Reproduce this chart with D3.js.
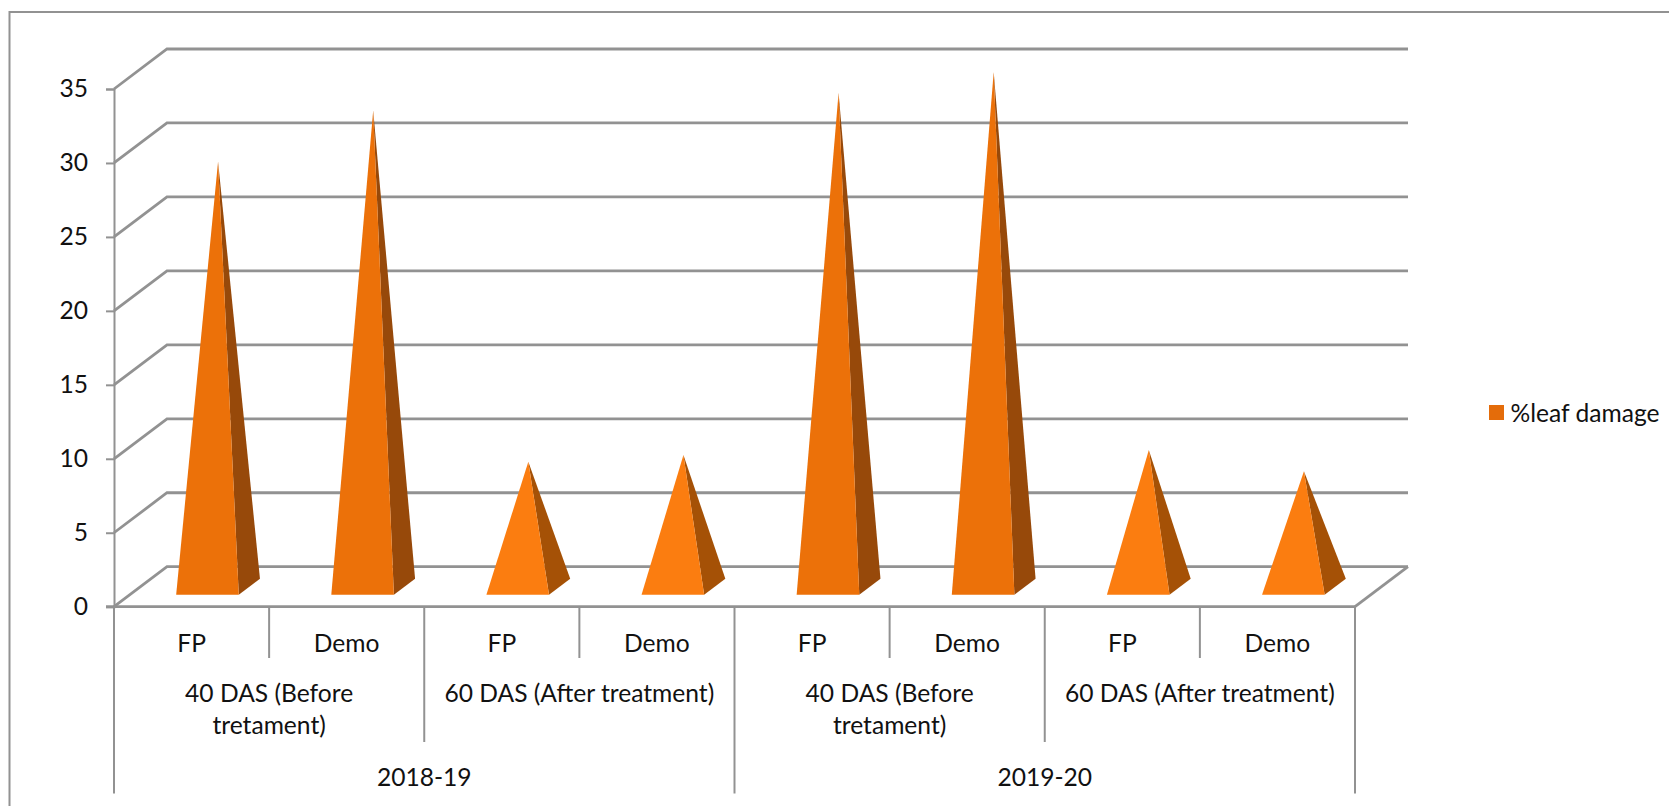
<!DOCTYPE html>
<html>
<head>
<meta charset="utf-8">
<script src="https://cdn.jsdelivr.net/npm/d3@7"></script>
<style>
  html, body { margin: 0; padding: 0; background: #fff; overflow: hidden; }
  text { font-family: Lato, "Open Sans", sans-serif; fill: #111; }
</style>
</head>
<body>
<div id="chart"></div>
<script>
// values
const categories = ['FP', 'Demo', 'FP', 'Demo', 'FP', 'Demo', 'FP', 'Demo'];
const leafDamage = [28.75, 32.2, 8.45, 8.9, 33.4, 34.8, 9.25, 7.8];
const treatmentLabels = [
  ['40 DAS (Before', 'tretament)'],
  ['60 DAS (After treatment)'],
  ['40 DAS (Before', 'tretament)'],
  ['60 DAS (After treatment)']
];
const yearLabels = ['2018-19', '2019-20'];
const yTicks = [0, 5, 10, 15, 20, 25, 30, 35];
const seriesName = '%leaf damage';

const W = 1669, H = 806;
const GREY = '#929292';
const FS = 24.6;

// 3d box offset of the back wall
const depthX = 53, depthY = 40;

const svg = d3.select('#chart').append('svg')
  .attr('width', W).attr('height', H)
  .attr('viewBox', `0 0 ${W} ${H}`)
  .style('display', 'block');

const x = d3.scaleBand().domain(d3.range(categories.length)).range([114, 1355]);
const y = d3.scaleLinear().domain([0, 35]).range([606.7, 89]);

const faceColor = d3.scaleThreshold().domain([15]).range(['#FB7D10', '#EC7109']);
const sideColor = d3.scaleThreshold().domain([15]).range(['#A55106', '#97490A']);

// chart frame (open on the right and bottom, cropped in the source)
svg.append('path')
  .attr('d', `M9.5,${H} V12 H${W}`)
  .attr('fill', 'none').attr('stroke', GREY).attr('stroke-width', 2);

// back wall gridlines + slanted side wall
const gGrid = svg.append('g').attr('fill', 'none').attr('stroke', GREY).attr('stroke-width', 2.8);
yTicks.forEach(t => {
  const line = d3.line();
  gGrid.append('path').attr('d', line([
    [x.range()[0], y(t)],
    [x.range()[0] + depthX, y(t) - depthY],
    [x.range()[1] + depthX, y(t) - depthY]
  ]));
});
// floor right edge
gGrid.append('path').attr('d', d3.line()([
  [x.range()[1], y(0)],
  [x.range()[1] + depthX, y(0) - depthY]
]));

// y axis
const yAxis = d3.axisLeft(y).tickValues(yTicks).tickSize(8).tickPadding(18);
const gY = svg.append('g').attr('transform', `translate(${x.range()[0]},0)`).call(yAxis);
gY.select('.domain').attr('stroke', GREY).attr('stroke-width', 2);
gY.selectAll('.tick line').attr('stroke', GREY).attr('stroke-width', 2);
gY.selectAll('.tick text').attr('font-size', FS).style('font-family', 'Lato').attr('fill', '#111');

// floor front edge
svg.append('line')
  .attr('x1', x.range()[0] - 8).attr('x2', x.range()[1])
  .attr('y1', y(0)).attr('y2', y(0))
  .attr('stroke', GREY).attr('stroke-width', 2.8);

// pyramids
const baseW = 62.6;
const baseNear = 0.3, baseFar = 0.7;   // depth fractions of the base
const gBars = svg.append('g');
leafDamage.forEach((v, i) => {
  const cx = x(i) + x.bandwidth() / 2;
  const x0 = cx - baseW / 2 + depthX * baseNear;
  const x1 = x0 + baseW;
  const yNear = y(0) - depthY * baseNear;
  const apex = [cx + depthX * 0.5, y(v) - depthY * 0.5];
  const backX = x1 + depthX * (baseFar - baseNear);
  const backY = y(0) - depthY * baseFar;
  gBars.append('path')
    .attr('d', d3.line()([apex, [x1, yNear], [backX, backY]]) + 'Z')
    .attr('fill', sideColor(v));
  gBars.append('path')
    .attr('d', d3.line()([apex, [x0, yNear], [x1, yNear]]) + 'Z')
    .attr('fill', faceColor(v));
});

// multi level category axis
const gCat = svg.append('g');
function divider(k, y2) {
  gCat.append('line')
    .attr('x1', x.range()[0] + k * x.bandwidth()).attr('x2', x.range()[0] + k * x.bandwidth())
    .attr('y1', y(0)).attr('y2', y2)
    .attr('stroke', GREY).attr('stroke-width', 2);
}
d3.range(categories.length + 1).forEach(k => {
  if (k % 4 === 0) divider(k, 793.5);
  else if (k % 2 === 0) divider(k, 742);
  else divider(k, 658);
});

function label(txt, cx, cy) {
  gCat.append('text')
    .attr('x', cx).attr('y', cy)
    .attr('text-anchor', 'middle').attr('dominant-baseline', 'central')
    .attr('font-size', FS).text(txt);
}
categories.forEach((c, i) => label(c, x(i) + x.bandwidth() / 2, 642));
treatmentLabels.forEach((lines, i) => {
  const cx = x.range()[0] + (i * 2 + 1) * x.bandwidth();
  lines.forEach((l, j) => label(l, cx, 692.5 + j * 32));
});
yearLabels.forEach((l, i) => label(l, x.range()[0] + (i * 4 + 2) * x.bandwidth(), 776.5));

// legend
const gLeg = svg.append('g').attr('transform', 'translate(1489,405)');
gLeg.append('rect').attr('width', 15).attr('height', 15).attr('fill', '#E46C0A');
gLeg.append('text')
  .attr('x', 21.5).attr('y', 7.5)
  .attr('dominant-baseline', 'central')
  .attr('font-size', FS).text(seriesName);
</script>
</body>
</html>
